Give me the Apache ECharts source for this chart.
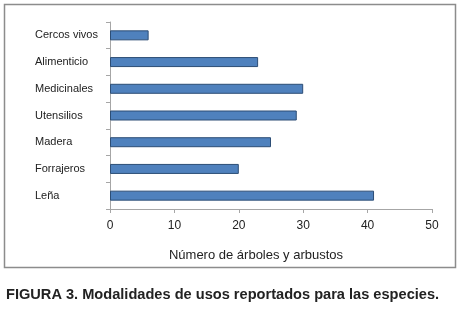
<!DOCTYPE html>
<html>
<head>
<meta charset="utf-8">
<script src="https://cdn.jsdelivr.net/npm/echarts@6/dist/echarts.min.js"></script>
<style>
  html, body { margin: 0; padding: 0; background: #fff; }
  #chart { width: 462px; height: 310px; }
</style>
</head>
<body>
<div id="chart"></div>
<script>
// categorias de abajo hacia arriba
const categories = ['Leña', 'Forrajeros', 'Madera', 'Utensilios', 'Medicinales', 'Alimenticio', 'Cercos vivos'];
const values = [41, 20, 25, 29, 30, 23, 6];
const xTicks = [0, 10, 20, 30, 40, 50];

const chart = echarts.init(document.getElementById('chart'), null, { renderer: 'canvas' });

const option = {
  backgroundColor: '#ffffff',
  animation: false,
  textStyle: { fontFamily: 'Liberation Sans, Arial, sans-serif' },
  title: {
    text: 'FIGURA 3. Modalidades de usos reportados para las especies.',
    left: 6,
    top: 287,
    padding: 0,
    textStyle: {
      fontFamily: 'Liberation Sans, Arial, sans-serif',
      fontSize: 14.6,
      fontWeight: 'bold',
      color: '#222',
    },
  },
  graphic: [
    {
      type: 'rect',
      shape: { x: 4.5, y: 4.5, width: 451, height: 263 },
      style: { fill: 'none', stroke: '#8c8c8c', lineWidth: 1.5 },
      silent: true,
    },
  ],
  grid: {
    left: 110,
    right: 30,
    top: 22,
    bottom: 101,
    containLabel: false,
  },
  xAxis: {
    type: 'value',
    min: xTicks[0],
    max: xTicks[xTicks.length - 1],
    interval: 10,
    name: 'Número de árboles y arbustos',
    nameLocation: 'middle',
    nameGap: 40,
    nameTextStyle: { color: '#222', fontSize: 13, padding: [0, 30, 0, 0] },
    axisLine: { show: true, lineStyle: { color: '#a6a6a6', width: 1 } },
    axisTick: { show: true, length: 4, lineStyle: { color: '#a6a6a6' } },
    axisLabel: { color: '#222', fontSize: 12, margin: 11 },
    splitLine: { show: false },
  },
  yAxis: {
    type: 'category',
    data: categories,
    axisLine: { show: true, lineStyle: { color: '#a6a6a6', width: 1 } },
    axisTick: { show: true, length: 4, lineStyle: { color: '#a6a6a6' } },
    axisLabel: { color: '#222', fontSize: 11, align: 'left', margin: 75 },
    splitLine: { show: false },
  },
  series: [
    {
      type: 'bar',
      data: values,
      barWidth: 10,
      itemStyle: {
        color: '#4f81bd',
        borderColor: '#2c4d75',
        borderWidth: 1,
      },
    },
  ],
};

chart.setOption(option);
</script>
</body>
</html>
